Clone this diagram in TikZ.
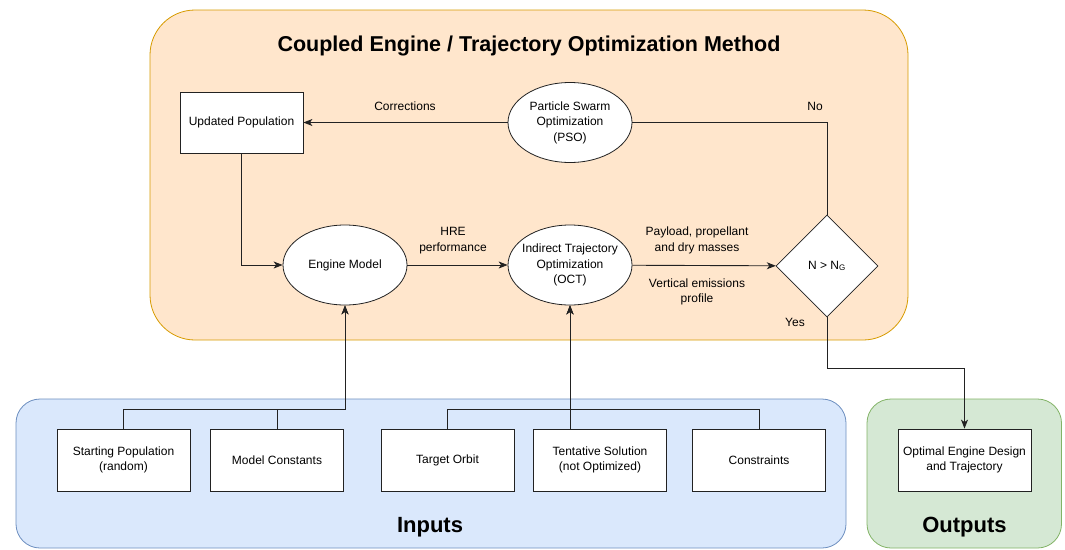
\documentclass[tikz,border=0pt]{standalone}
\usepackage{fontspec}
\setmainfont{Liberation Sans}
\usetikzlibrary{shapes.geometric,arrows.meta}
\definecolor{orfill}{HTML}{FFE6CC}
\definecolor{ordraw}{HTML}{D79B00}
\definecolor{blfill}{HTML}{DAE8FC}
\definecolor{bldraw}{HTML}{6C8EBF}
\definecolor{grfill}{HTML}{D5E8D4}
\definecolor{grdraw}{HTML}{82B366}
\definecolor{ln}{HTML}{222222}
\begin{document}
\begin{tikzpicture}[x=1pt,y=-1pt,
  txt/.style={font=\fontsize{12}{15.5}\selectfont, align=center},
  box/.style={txt, draw=ln, fill=white, minimum width=133pt, minimum height=62pt, inner sep=2pt, line width=0.8pt},
  ell/.style={txt, ellipse, draw=ln, fill=white, minimum width=124pt, minimum height=80pt, inner xsep=-8pt, inner ysep=-4pt, line width=0.8pt},
  dia/.style={txt, diamond, draw=ln, fill=white, aspect=1, minimum width=102pt, minimum height=102pt, inner sep=0pt, line width=0.8pt},
  conn/.style={draw=ln, line width=0.9pt},
  arr/.style={conn, -{Stealth[length=9pt,width=7pt,inset=2.5pt]}},
  lbl/.style={txt},
  ttl/.style={font=\fontsize{21.5}{24}\selectfont\bfseries}]
\useasboundingbox (0,0) rectangle (1065,549);
% containers
\draw[fill=orfill, draw=ordraw, line width=0.8pt, rounded corners=45pt] (150,10) rectangle (908,340);
\draw[fill=blfill, draw=bldraw, line width=0.8pt, rounded corners=24pt] (16,399) rectangle (846,548);
\draw[fill=grfill, draw=grdraw, line width=0.8pt, rounded corners=24pt] (867,399) rectangle (1061.5,548);
\node[ttl] (title) at (529,46) {Coupled Engine / Trajectory Optimization Method};
\node[ttl, font=\fontsize{22}{24}\selectfont\bfseries] (inlbl) at (430,527) {Inputs};
\node[ttl, font=\fontsize{22}{24}\selectfont\bfseries] (outlbl) at (964.5,527) {Outputs};
% main nodes
\node[box, minimum width=123pt, minimum height=61pt] (upd) at (241.5,122.5) {Updated Population};
\node[ell] (pso) at (570,122.5) {Particle Swarm\\Optimization\\(PSO)};
\node[ell] (eng) at (345,265) {Engine Model};
\node[ell] (oct) at (570,265) {Indirect Trajectory\\Optimization\\(OCT)};
\node[dia] (dec) at (827,266) {N > N\textsubscript{G}};
% input / output boxes
\node[box] (sp) at (123.5,460) {Starting Population\\(random)};
\node[box] (mc) at (277,460) {Model Constants};
\node[box] (to) at (447.5,460) {Target Orbit};
\node[box] (ts) at (600,460) {Tentative Solution\\(not Optimized)};
\node[box] (co) at (759,460) {Constraints};
\node[box] (out) at (964.5,460) {Optimal Engine Design\\and Trajectory};
% coordinates
\coordinate (jl) at (345,409);
\coordinate (jr) at (570,409);
\coordinate (yb) at (827,368);
% connectors
\draw[arr] (pso) -- (upd);
\draw[arr] (upd.south) |- (eng.west);
\draw[arr] (eng) -- (oct);
\draw[arr] (oct) -- (dec);
\draw[conn] (dec.north) |- (pso.east);
\draw[arr] (dec.south) -- (yb) -| (out.north);
\draw[arr] (sp.north) |- (jl) -- (eng.south);
\draw[arr] (mc.north) |- (jl) -- (eng.south);
\draw[arr] (to.north) |- (jr) -- (oct.south);
\draw[arr] (co.north) |- (jr) -- (oct.south);
\draw[arr] (ts.north -| oct.south) -- (oct.south);
% labels
\node[lbl] (lcor) at (405,106) {Corrections};
\node[lbl] (lno) at (815,106) {No};
\node[lbl] (lyes) at (795,322) {Yes};
\node[lbl] (lhre) at (453,240.5) {HRE\\performance};
\node[lbl] (lpay) at (697,240.5) {Payload, propellant\\and dry masses};
\node[lbl] (lver) at (697,292) {Vertical emissions\\profile};
\end{tikzpicture}
\end{document}
